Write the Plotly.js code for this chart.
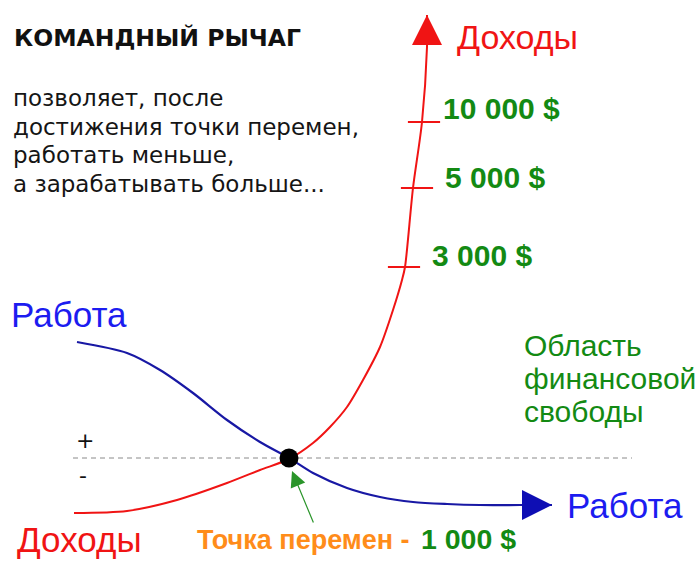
<!DOCTYPE html>
<html>
<head>
<meta charset="utf-8">
<script src="https://cdn.plot.ly/plotly-3.0.1.min.js"></script>
<style>
  html, body { margin: 0; padding: 0; background: #ffffff; }
  #chart { width: 697px; height: 562px; }
</style>
</head>
<body>
<div id="chart"></div>
<script>
// curves (pixel grid, y grows downwards)
const incomeX = [74, 127, 177, 227, 260, 289, 313, 330, 347, 363, 380, 393, 402, 405, 413, 422, 427, 427];
const incomeY = [513, 511, 500, 483, 470, 459, 443, 427, 407, 380, 347, 310, 280, 267, 188, 122, 47, 15];
const workX = [77, 127, 160, 193, 227, 260, 289, 313, 347, 380, 413, 447, 480, 520, 552];
const workY = [342, 353, 370, 393, 420, 442, 458, 473, 488, 497, 502, 504, 505, 505, 505];

const breakEven = { x: 289, y: 458 };
const dashedFrom = 73;
const dashedTo = 632;

const levelLabels = ["3 000 $", "5 000 $", "10 000 $"];
const levelTickX = [404, 417, 424];
const levelTickY = [267, 188, 122];
const levelLabelX = [430, 443, 441];
const levelLabelY = [255, 177, 108];

const introLines = [
  "позволяет, после",
  "достижения точки перемен,",
  "работать меньше,",
  "а зарабатывать больше..."
];
const areaLines = ["Область", "финансовой", "свободы"];

const RED = "#f01414";
const NAVY = "#1818a4";
const BLUE = "#1c1cf0";
const GREEN = "#138a13";
const ORANGE = "#ff8c1a";
const sans = "Liberation Sans, Arial, sans-serif";
const verdana = "DejaVu Sans, Verdana, sans-serif";

const traces = [
  {
    x: incomeX, y: incomeY, type: "scatter", mode: "lines",
    line: { color: RED, width: 2, shape: "spline", smoothing: 0.8 },
    hoverinfo: "skip"
  },
  {
    x: workX, y: workY, type: "scatter", mode: "lines",
    line: { color: NAVY, width: 2.2, shape: "spline", smoothing: 0.8 },
    hoverinfo: "skip"
  },
  {
    x: [incomeX[incomeX.length - 1]], y: [incomeY[incomeY.length - 1]],
    type: "scatter", mode: "markers",
    marker: { symbol: "arrow-up", size: 30, color: RED },
    hoverinfo: "skip"
  },
  {
    x: [workX[workX.length - 1]], y: [workY[workY.length - 1]],
    type: "scatter", mode: "markers",
    marker: { symbol: "arrow-right", size: 30, color: "#0e0eb4" },
    hoverinfo: "skip"
  },
  {
    x: levelTickX, y: levelTickY, type: "scatter", mode: "markers",
    marker: { symbol: "line-ew", size: 23, line: { color: RED, width: 2 } },
    hoverinfo: "skip"
  },
  {
    x: [breakEven.x], y: [breakEven.y], type: "scatter", mode: "markers",
    marker: { symbol: "circle", size: 19, color: "#000000" },
    hoverinfo: "skip"
  }
];

function label(text, x, y, size, color, family, extra) {
  return Object.assign({
    text: text, x: x, y: y, xref: "x", yref: "y",
    xanchor: "left", yanchor: "middle", showarrow: false,
    font: { size: size, color: color, family: family }
  }, extra || {});
}

const annotations = [
  label("<b>КОМАНДНЫЙ РЫЧАГ</b>", 12, 38, 23.5, "#111111", verdana),
  label("Доходы", 455, 37, 34, RED, sans),
  label("Работа", 9, 314, 35, BLUE, sans),
  label("Работа", 565, 505, 35, BLUE, sans),
  label("Доходы", 15, 539, 35, RED, sans),
  label("+", 74, 440, 22, "#111111", verdana),
  label("-", 77, 475, 22, "#111111", verdana),
  label("<b>Точка перемен - </b>", 195, 540, 27, ORANGE, sans),
  label("<b>1 000 $</b>", 419, 539, 28.5, GREEN, sans),
  {
    text: "", x: 292, y: 471, ax: 314, ay: 524, xref: "x", yref: "y", axref: "x", ayref: "y",
    showarrow: true, arrowhead: 2, arrowsize: 2.6, arrowwidth: 1.2, arrowcolor: "#2a952a"
  }
];

introLines.forEach((line, i) => {
  annotations.push(label(line, 11, 98 + i * 28.5, 23, "#151515", verdana));
});
areaLines.forEach((line, i) => {
  annotations.push(label(line, 522, 345 + i * 33, 30, GREEN, sans));
});
levelLabels.forEach((text, i) => {
  annotations.push(label("<b>" + text + "</b>", levelLabelX[i], levelLabelY[i], 30, GREEN, sans));
});

const layout = {
  width: 697,
  height: 562,
  margin: { t: 0, b: 0, l: 0, r: 0 },
  paper_bgcolor: "#ffffff",
  plot_bgcolor: "#ffffff",
  showlegend: false,
  xaxis: { range: [0, 697], visible: false, fixedrange: true },
  yaxis: { range: [562, 0], visible: false, fixedrange: true },
  shapes: [{
    type: "line", xref: "x", yref: "y",
    x0: dashedFrom, x1: dashedTo, y0: breakEven.y, y1: breakEven.y,
    line: { color: "#8a8a8a", width: 1, dash: "5px,4px" },
    layer: "below"
  }],
  annotations: annotations
};

Plotly.newPlot("chart", traces, layout, { displayModeBar: false, staticPlot: true });
</script>
</body>
</html>
